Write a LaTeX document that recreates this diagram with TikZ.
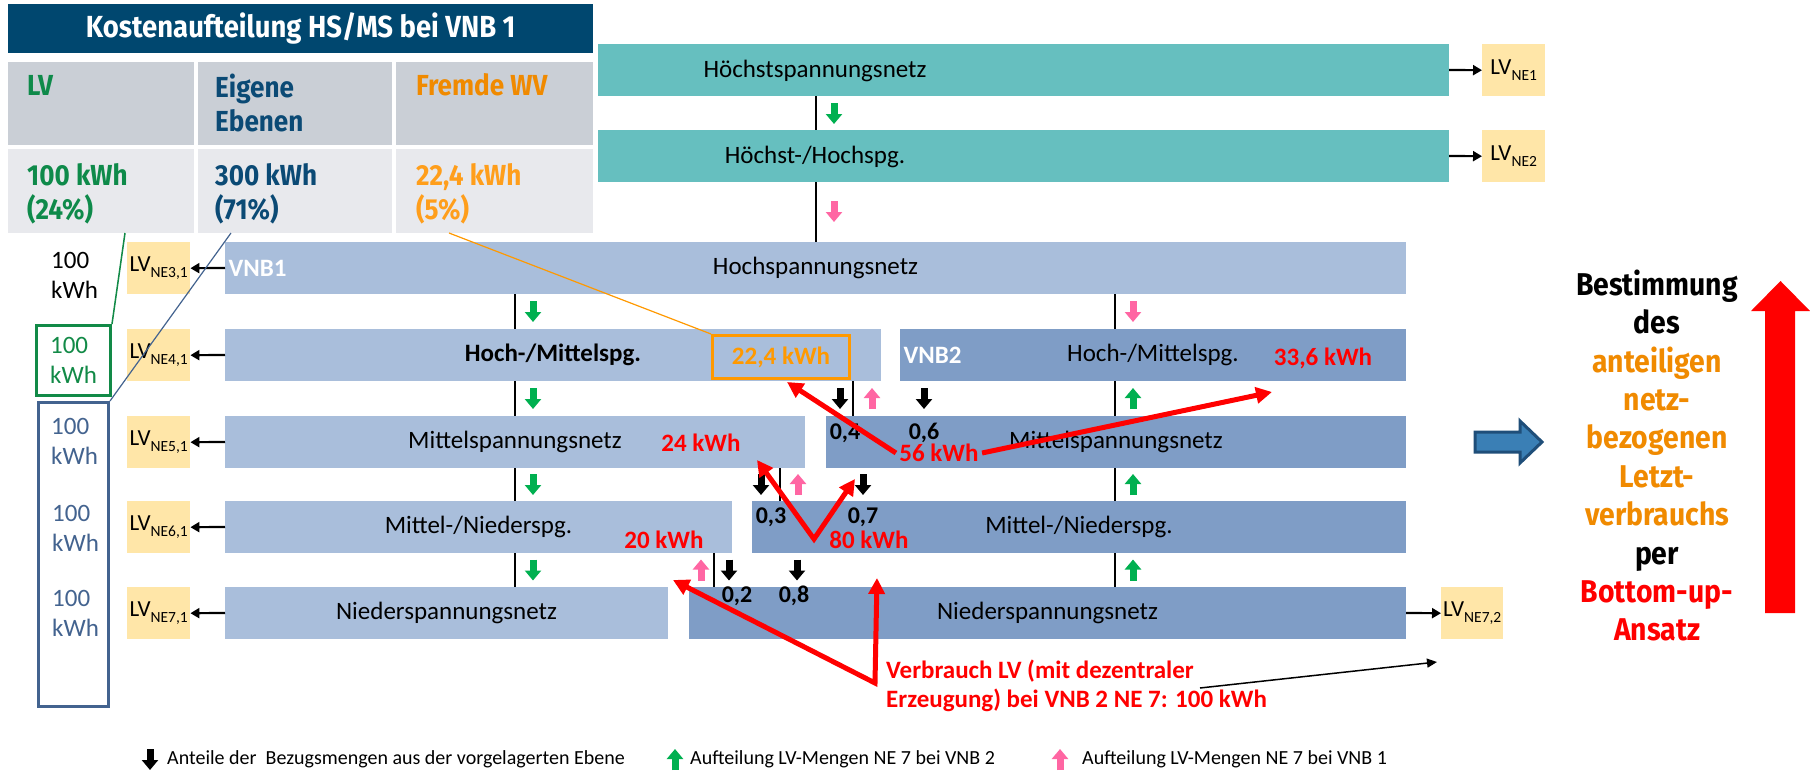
\documentclass[tikz,border=0pt]{standalone}
\usepackage{fontspec}
\setmainfont{Carlito}
\newfontfamily\bsans[FakeStretch=0.9]{Fira Sans}
\usetikzlibrary{arrows.meta,positioning}

\definecolor{cteal}{HTML}{66BFBF}
\definecolor{cvnbA}{HTML}{A9BEDB}
\definecolor{cvnbB}{HTML}{7F9DC6}
\definecolor{clv}{HTML}{FFE6A8}
\definecolor{chead}{HTML}{00476F}
\definecolor{crowA}{HTML}{CACFD6}
\definecolor{crowB}{HTML}{E8E9ED}
\definecolor{cgreen}{HTML}{0E8A4A}
\definecolor{cnavy}{HTML}{0B4A75}
\definecolor{corange}{HTML}{F08A00}
\definecolor{clorange}{HTML}{FF9E1B}
\definecolor{carrgreen}{HTML}{00B050}
\definecolor{cpink}{HTML}{FF66A3}
\definecolor{cboxblue}{HTML}{43638F}
\definecolor{cboxgreen}{HTML}{128A47}
\definecolor{cboxorange}{HTML}{FF9900}
\definecolor{cdarkarr}{HTML}{1F4E79}
\definecolor{cmidarr}{HTML}{3A7FB5}

\newcommand{\lvne}[1]{LV\raisebox{-6pt}{\fontsize{15.5}{15.5}\selectfont #1}}

\begin{document}
\begin{tikzpicture}[x=1pt, y=-1pt,
  barfont/.style={font=\fontsize{25}{30}\selectfont},
  netbar/.style={barfont, anchor=north west, minimum height=52pt, inner sep=0pt, outer sep=0pt},
  tbar/.style={netbar, fill=cteal},
  abar/.style={netbar, fill=cvnbA},
  bbar/.style={netbar, fill=cvnbB},
  lvbox/.style={anchor=north west, fill=clv, minimum width=63pt, minimum height=52pt, inner sep=0pt, font=\fontsize{23}{26}\selectfont},
  lvarrow/.style={-{Triangle[length=9pt,width=10pt]}, line width=2.2pt},
  tap/.style={line width=2pt},
  sarr/.style={-{Triangle[length=10pt,width=16pt]}, line width=7pt},
  redarr/.style={-{Triangle[length=16pt,width=16pt]}, line width=5pt, red},
  redV/.style={{Triangle[length=16pt,width=16pt]}-{Triangle[length=16pt,width=16pt]}, line width=5pt, red},
  rlbl/.style={text=red, font=\bfseries\fontsize{25}{30}\selectfont},
  share/.style={font=\bfseries\fontsize{24}{28}\selectfont, inner sep=0pt},
  vnblbl/.style={text=white, font=\bfseries\fontsize{25}{30}\selectfont},
  leftval/.style={anchor=west, inner sep=0pt, align=left, font=\fontsize{25}{30}\selectfont},
  cellA/.style={anchor=north west, fill=crowA, minimum height=83pt, inner sep=0pt},
  cellB/.style={anchor=north west, fill=crowB, minimum height=84pt, inner sep=0pt},
  celltxt/.style={anchor=west, inner sep=0pt, align=left, font=\bsans\bfseries\fontsize{29}{34}\selectfont},
  legendtxt/.style={anchor=west, inner sep=0pt, font=\fontsize{20}{24}\selectfont}]

\fill[white] (0,0) rectangle (1810,771);
\useasboundingbox (0,0) rectangle (1810,771);

% table
\node[anchor=north west, fill=chead, minimum width=585pt, minimum height=49pt, inner sep=0pt, text=white,
  font=\bsans\bfseries\fontsize{30.5}{34}\selectfont] (thead) at (8,4) {Kostenaufteilung HS/MS bei VNB 1};
\node[cellA, minimum width=186pt] (cLV) at (8,62) {};
\node[cellA, minimum width=194pt] (cEig) at (198,62) {};
\node[cellA, minimum width=197pt] (cWV) at (396,62) {};
\node[cellB, minimum width=186pt] (vLV) at (8,149) {};
\node[cellB, minimum width=194pt] (vEig) at (198,149) {};
\node[cellB, minimum width=197pt] (vWV) at (396,149) {};
\node[celltxt, text=cgreen] (tLV) at (27,85) {LV};
\node[celltxt, text=cnavy] (tEig) at (215,102.5) {Eigene\\Ebenen};
\node[celltxt, text=corange] (tWV) at (416,85) {Fremde WV};
\node[celltxt, text=cgreen] (nLV) at (27,193.5) {100 kWh\\(24\%)};
\node[celltxt, text=cnavy] (nEig) at (215,193.5) {300 kWh\\(71\%)};
\node[celltxt, text=clorange] (nWV) at (416,193.5) {22,4 kWh\\(5\%)};

% Hoechstspannung
\node[tbar, minimum width=851pt] (hoe) at (598,44) {};
\node[barfont] (hoetxt) at (815,71) {Höchstspannungsnetz};
\node[tbar, minimum width=851pt] (hh) at (598,130) {};
\node[barfont] (hhtxt) at (815,157) {Höchst-/Hochspg.};
\node[lvbox] (lv1) at (1482,44) {\lvne{NE1}};
\node[lvbox] (lv2) at (1482,130) {\lvne{NE2}};
\draw[lvarrow] (hoe.east) -- (lv1.west);
\draw[lvarrow] (hh.east) -- (lv2.west);

% VNB 1 and VNB 2
\node[abar, minimum width=1181pt] (hsA) at (225,242) {Hochspannungsnetz};
\node[abar, minimum width=656pt, font=\bfseries\fontsize{25}{30}\selectfont] (hmA) at (225,329) {Hoch-/Mittelspg.};
\node[bbar, minimum width=506pt] (hmB) at (900,329) {Hoch-/Mittelspg.};
\node[abar, minimum width=580pt] (msA) at (225,416) {Mittelspannungsnetz};
\node[bbar, minimum width=580pt] (msB) at (826,416) {Mittelspannungsnetz};
\node[abar, minimum width=507pt] (mnA) at (225,501) {Mittel-/Niederspg.};
\node[bbar, minimum width=654pt] (mnB) at (752,501) {Mittel-/Niederspg.};
\node[abar, minimum width=443pt] (nsA) at (225,587) {Niederspannungsnetz};
\node[bbar, minimum width=717pt] (nsB) at (689,587) {Niederspannungsnetz};
\node[vnblbl, right=0pt of hsA.west] (vnb1) {VNB1};
\node[vnblbl, right=0pt of hmB.west] (vnb2) {VNB2};

\node[lvbox] (lv3) at (127,242) {\lvne{NE3,1}};
\node[lvbox] (lv4) at (127,329) {\lvne{NE4,1}};
\node[lvbox] (lv5) at (127,416) {\lvne{NE5,1}};
\node[lvbox] (lv6) at (127,501) {\lvne{NE6,1}};
\node[lvbox] (lv7) at (127,587) {\lvne{NE7,1}};
\node[lvbox, minimum width=62pt] (lv72) at (1441,587) {\lvne{NE7,2}};
\draw[lvarrow] (hsA.west) -- (lv3.east);
\draw[lvarrow] (hmA.west) -- (lv4.east);
\draw[lvarrow] (msA.west) -- (lv5.east);
\draw[lvarrow] (mnA.west) -- (lv6.east);
\draw[lvarrow] (nsA.west) -- (lv7.east);
\draw[lvarrow] (nsB.east) -- (lv72.west);

% connections between the levels
\draw[tap] (816,0 |- hoe.south) -- (816,0 |- hh.north);
\draw[tap] (816,0 |- hh.south) -- (816,0 |- hsA.north);
\draw[tap] (515,0 |- hsA.south) -- (515,0 |- hmA.north);
\draw[tap] (515,0 |- hmA.south) -- (515,0 |- msA.north);
\draw[tap] (515,0 |- msA.south) -- (515,0 |- mnA.north);
\draw[tap] (515,0 |- mnA.south) -- (515,0 |- nsA.north);
\draw[tap] (1115,0 |- hsA.south) -- (1115,0 |- hmB.north);
\draw[tap] (1115,0 |- hmB.south) -- (1115,0 |- msB.north);
\draw[tap] (1115,0 |- msB.south) -- (1115,0 |- mnB.north);
\draw[tap] (1115,0 |- mnB.south) -- (1115,0 |- nsB.north);
\draw[tap] (853,0 |- hmA.south) -- (853,0 |- msB.north);
\draw[tap] (780,0 |- msA.south) -- (780,0 |- mnB.north);
\draw[tap] (714,0 |- mnA.south) -- (714,0 |- nsB.north);

% small arrows
\draw[sarr, carrgreen] (834,103) -- (834,124);
\draw[sarr, cpink] (834,201) -- (834,222);
\draw[sarr, carrgreen] (533,301) -- (533,322);
\draw[sarr, carrgreen] (533,388) -- (533,409);
\draw[sarr, carrgreen] (533,474) -- (533,495);
\draw[sarr, carrgreen] (533,559.5) -- (533,580.5);
\draw[sarr, cpink] (1133,301) -- (1133,322);
\draw[sarr, carrgreen] (1133,409) -- (1133,388);
\draw[sarr, carrgreen] (1133,495) -- (1133,474);
\draw[sarr, carrgreen] (1133,580.5) -- (1133,559.5);
\draw[sarr] (840,388) -- (840,409);
\draw[sarr, cpink] (872,409) -- (872,388);
\draw[sarr] (924,388) -- (924,409);
\draw[sarr] (761,474) -- (761,495);
\draw[sarr, cpink] (798,495) -- (798,474);
\draw[sarr] (863,474) -- (863,495);
\draw[sarr, cpink] (701,580.5) -- (701,559.5);
\draw[sarr] (729,559.5) -- (729,580.5);
\draw[sarr] (797,559.5) -- (797,580.5);

% shares
\node[share] (s04) at (845,433) {0,4};
\node[share] (s06) at (924,433) {0,6};
\node[share] (s03) at (771,517) {0,3};
\node[share] (s07) at (863,517) {0,7};
\node[share] (s02) at (737,596) {0,2};
\node[share] (s08) at (794,596) {0,8};

% amounts
\node[draw=cboxorange, line width=3pt, anchor=north west, minimum width=137pt, minimum height=43pt, inner sep=0pt,
  text=cboxorange, font=\bfseries\fontsize{25}{30}\selectfont] (ob) at (711,334) {22,4 kWh};
\node[rlbl] (r56) at (939,453) {56 kWh};
\node[rlbl] (r336) at (1323,358) {33,6 kWh};
\node[rlbl] (r24) at (701,443) {24 kWh};
\node[rlbl] (r80) at (869,540) {80 kWh};
\node[rlbl] (r20) at (664,540) {20 kWh};
\node[rlbl, anchor=west, inner sep=0pt, align=left, font=\bfseries\fontsize{25}{29}\selectfont] (verb) at (886,686)
  {Verbrauch LV (mit dezentraler\\Erzeugung) bei VNB 2 NE 7: 100 kWh};

\coordinate (t224) at (787,382);
\coordinate (t336) at (1272,392);
\coordinate (v80) at (814,539);
\coordinate (t24) at (757,460);
\coordinate (t80) at (855,479);
\coordinate (vLV) at (875,683);
\coordinate (t20) at (673,580);
\coordinate (t80b) at (877,578);
\coordinate (vstart) at (1200,688);
\coordinate (tLV72) at (1437,662);
\draw[redarr] (r56.west) -- (t224);
\draw[redarr] (r56.east) -- (t336);
\draw[redV] (t24) -- (v80) -- (t80);
\draw[redV] (t20) -- (vLV) -- (t80b);
\draw[-{Triangle[length=10pt,width=9pt]}, line width=1.5pt] (vstart) -- (tLV72);

% left column
\node[leftval] (k3) at (51,275.5) {100\\kWh};
\node[draw=cboxgreen, line width=3pt, anchor=north west, minimum width=74pt, minimum height=70pt, align=left,
  text=cboxgreen, font=\fontsize{25}{30}\selectfont] (gbox) at (35,324) {100\\kWh};
\node[draw=cboxblue, line width=3pt, anchor=north west, minimum width=70pt, minimum height=304pt] (bbox) at (37,401) {};
\node[leftval, text=cboxblue] (k5) at (51,441.5) {100\\kWh};
\node[leftval, text=cboxblue] (k6) at (52,528.5) {100\\kWh};
\node[leftval, text=cboxblue] (k7) at (52,613) {100\\kWh};
\coordinate (tabLV) at (125,233);
\coordinate (tabEig) at (231,233);
\coordinate (tabWV) at (449,233);
\draw[cboxgreen, line width=1.5pt] (gbox.north east) -- (tabLV);
\draw[cboxblue, line width=1.2pt] (bbox.north east) -- (tabEig);
\draw[cboxorange, line width=1.2pt] (tabWV) -- (ob.north west);

% right side
\draw[cdarkarr, fill=cmidarr, line width=3pt] (1475,432) -- (1520,432) -- (1520,421) -- (1542,442)
  -- (1520,463) -- (1520,452) -- (1475,452) -- cycle;
\node[align=center, inner sep=0pt, font=\bsans\bfseries\fontsize{31.5}{38.4}\selectfont] (bottomup) at (1657,455.5)
  {Bestimmung\\des\\\textcolor{corange}{anteiligen}\\\textcolor{corange}{netz-}\\\textcolor{corange}{bezogenen}\\
   \textcolor{corange}{Letzt-}\\\textcolor{corange}{verbrauchs}\\per\\\textcolor{red}{Bottom-up-}\\\textcolor{red}{Ansatz}};
\fill[red] (1765,613) -- (1765,311) -- (1751,311) -- (1780.5,281) -- (1810,311) -- (1795,311) -- (1795,613) -- cycle;

% legend
\draw[sarr] (150,749) -- (150,770);
\node[legendtxt] (lg1) at (167,759) {Anteile der\ \ Bezugsmengen aus der vorgelagerten Ebene};
\draw[sarr, carrgreen] (675,770) -- (675,749);
\node[legendtxt] (lg2) at (690,759) {Aufteilung LV-Mengen NE 7 bei VNB 2};
\draw[sarr, cpink] (1060,770) -- (1060,749);
\node[legendtxt] (lg3) at (1082,759) {Aufteilung LV-Mengen NE 7 bei VNB 1};
\end{tikzpicture}
\end{document}
